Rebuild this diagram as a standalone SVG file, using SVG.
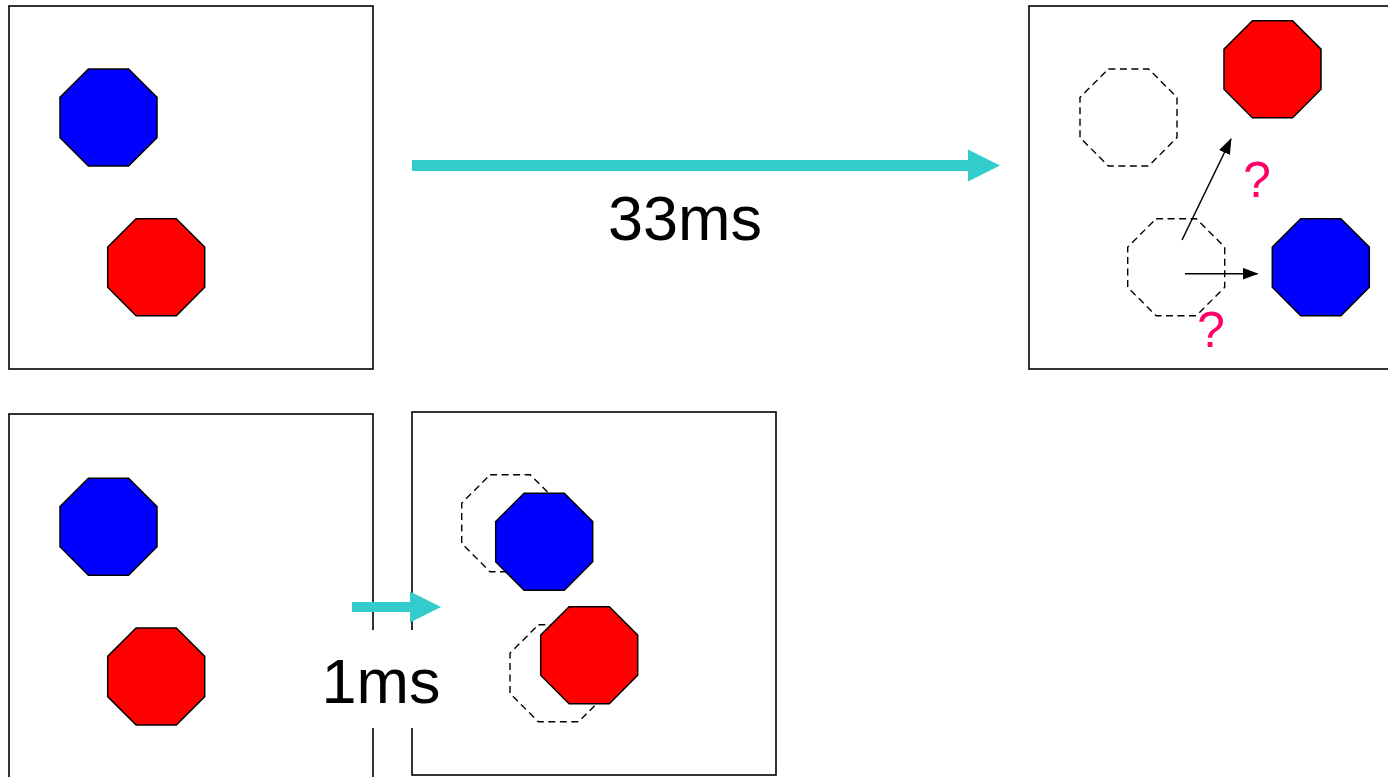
<svg xmlns="http://www.w3.org/2000/svg" width="1388" height="777" viewBox="0 0 1388 777">
<style>
.frame{fill:none;stroke:#000;stroke-width:1.6}
.blue{fill:#0000FF;stroke:#000;stroke-width:1.5}
.red{fill:#FF0000;stroke:#000;stroke-width:1.5}
.ghost{fill:none;stroke:#000;stroke-width:1.4;stroke-dasharray:7 4.5}
.lbl{font-family:"Liberation Sans",Arial,sans-serif;font-size:63px;fill:#000;text-anchor:middle}
.q{font-family:"Liberation Sans",Arial,sans-serif;font-size:50px;fill:#FF0066;text-anchor:middle}
.thin{stroke:#000;stroke-width:1.5;fill:none}
</style>
<defs>
<polygon id="oct" points="-20.1,-48.5 20.1,-48.5 48.5,-20.1 48.5,20.1 20.1,48.5 -20.1,48.5 -48.5,20.1 -48.5,-20.1"/>
<marker id="ah" markerWidth="16" markerHeight="12" refX="15" refY="6" orient="auto" markerUnits="userSpaceOnUse">
<path d="M0,0 L16,6 L0,12 Z" fill="#000"/>
</marker>
</defs>
<rect width="1388" height="777" fill="#fff"/>

<g id="frame-before-33ms">
<rect class="frame" x="9" y="6" width="364" height="363"/>
<use href="#oct" class="blue" x="108.5" y="117.5"/>
<use href="#oct" class="red" x="156.2" y="267.2"/>
</g>

<g id="frame-after-33ms">
<rect class="frame" x="1029" y="6" width="370" height="363"/>
<use href="#oct" class="ghost" x="1128.5" y="117.5"/>
<use href="#oct" class="ghost" x="1176.2" y="267.2"/>
<use href="#oct" class="red" x="1272.5" y="69.2"/>
<use href="#oct" class="blue" x="1320.8" y="267.2"/>
<text class="q" x="1257" y="197">?</text>
<text class="q" x="1211" y="347">?</text>
</g>

<g id="frame-before-1ms">
<rect class="frame" x="9" y="414" width="364" height="400"/>
<use href="#oct" class="blue" x="108.5" y="526.7"/>
<use href="#oct" class="red" x="156.2" y="676.5"/>
</g>

<g id="frame-after-1ms">
<rect class="frame" x="412" y="412" width="364" height="363"/>
<use href="#oct" class="ghost" x="510.2" y="523.3"/>
<use href="#oct" class="ghost" x="558.5" y="673.3"/>
<use href="#oct" class="blue" x="544.2" y="541.7"/>
<use href="#oct" class="red" x="589.2" y="655.2"/>
</g>

<g id="connectors">
<path d="M412,160 H968 V149.5 L1000,165.5 L968,181.5 V171 H412 Z" fill="#33CCCC"/>
<text class="lbl" x="685" y="240">33ms</text>
<rect x="318" y="630" width="128" height="98" fill="#fff"/>
<text class="lbl" x="381" y="703">1ms</text>
<path d="M352,602 H410 V591.5 L441,607 L410,622.5 V612 H352 Z" fill="#33CCCC"/>
<line class="thin" x1="1182" y1="240" x2="1231" y2="139" marker-end="url(#ah)"/>
<line class="thin" x1="1185" y1="273.7" x2="1257.5" y2="273.7" marker-end="url(#ah)"/>
</g>
</svg>
